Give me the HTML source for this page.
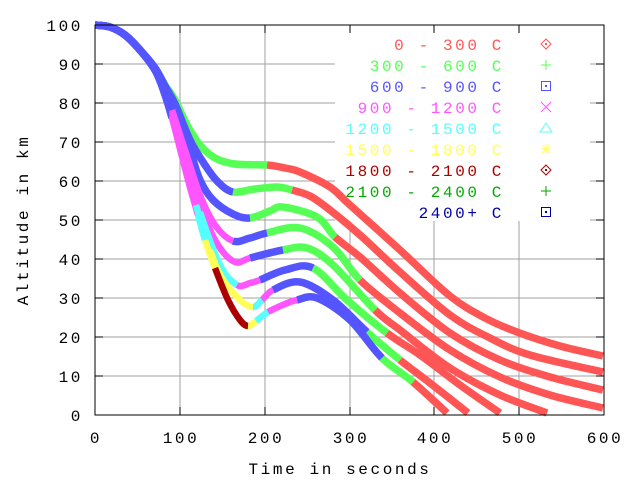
<!DOCTYPE html>
<html><head><meta charset="utf-8"><style>
html,body{margin:0;padding:0;background:#fff}
svg{display:block}
text{font-family:"Liberation Mono",monospace;font-size:16px;letter-spacing:2.6px}
</style></head><body>
<svg id="s" width="640" height="480" xmlns="http://www.w3.org/2000/svg">
<rect width="640" height="480" fill="#fff"/>
<g id="grid" stroke="#a0a0a0" stroke-width="1"></g>
<rect x="335" y="31" width="255" height="190" fill="#fff"/>
<g id="curves" fill="none" stroke-linecap="butt" stroke-linejoin="round"></g>
<g id="legend"></g>
<g id="axes"></g>
<text x="340" y="474" text-anchor="middle">Time in seconds</text>
<text transform="translate(28,220) rotate(-90)" text-anchor="middle">Altitude in km</text>
</svg>
<script>
const NS="http://www.w3.org/2000/svg";
function el(t,a,p){const e=document.createElementNS(NS,t);for(const k in a)e.setAttribute(k,a[k]);p.appendChild(e);return e;}
const grid=document.getElementById('grid'),axes=document.getElementById('axes');
const X0=95,X1=604,Y0=415,Y1=25;
const xs=[95,180,265,350,434,519,604];
for(let i=0;i<7;i++){
 const x=xs[i];
 if(i>0&&i<6) el('line',{x1:x,y1:Y1,x2:x,y2:Y0},grid);
 el('line',{x1:x,y1:Y0,x2:x,y2:Y0-8,stroke:'#000'},axes);
 el('line',{x1:x,y1:Y1,x2:x,y2:Y1+8,stroke:'#000'},axes);
 const t=el('text',{x:x+1,y:443,'text-anchor':'middle'},axes);t.textContent=String(i*100);
}
for(let k=0;k<=10;k++){
 const y=Y0-39*k;
 if(k>0&&k<10) el('line',{x1:X0,y1:y,x2:X1,y2:y},grid);
 el('line',{x1:X0,y1:y,x2:X0+8,y2:y,stroke:'#000'},axes);
 el('line',{x1:X1,y1:y,x2:X1-8,y2:y,stroke:'#000'},axes);
 const t=el('text',{x:83,y:y+6,'text-anchor':'end'},axes);t.textContent=String(k*10);
}
el('rect',{x:X0,y:Y1,width:X1-X0,height:Y0-Y1,fill:'none',stroke:'#000'},axes);

const C={r:'#ff5555',g:'#55ff55',b:'#5555ff',m:'#ff55ff',c:'#55ffff',y:'#ffff55',d:'#aa0000'};
const T=[
 [[95,25,'b'],[110,27],[125,35],[140,50,'g'],[155,68],[165,85],[175,100],[187,125],[200,145],[215,158],[235,164],[267,165,'r'],[285,168],[300,172],[330,187],[350,205],[400,250],[450,296],[485,318],[517,332],[560,346],[603,356]],
 [[95,25,'b'],[110,27],[125,35],[140,50],[155,68],[165,86],[175,104],[190,140],[205,165],[218,182],[233,192,'g'],[255,189],[277,187],[292,190,'r'],[310,196],[330,210],[360,235],[400,272],[450,315],[490,338],[530,355],[603,372]],
 [[95,25,'b'],[110,27],[125,35],[140,50],[155,68],[165,87],[176,108],[190,150],[200,180],[213,200],[233,214],[250,218,'g'],[270,211],[283,207],[317,217],[335,237,'r'],[360,257],[400,293],[450,333],[500,360],[550,377],[603,390]],
 [[95,25,'b'],[110,27],[125,35],[140,50],[155,69],[164,88],[172,110,'m'],[185,150],[200,195],[215,225],[233,241,'b'],[250,238],[267,233,'g'],[300,228],[333,247],[360,280,'r'],[400,313],[450,350],[500,377],[550,395],[603,408]],
 [[95,25,'b'],[110,27],[125,35],[140,50],[155,69],[164,89],[172,112,'m'],[187,160],[202,210],[218,245],[235,262],[250,258,'b'],[283,250,'g'],[307,248],[333,265],[375,310,'r'],[400,330],[450,368],[500,395],[547,413]],
 [[95,25,'b'],[110,27],[125,35],[140,50],[155,70],[164,90],[172,115,'m'],[188,170],[200,212,'c'],[220,265],[237,285,'m'],[250,283],[260,280,'b'],[285,270],[313,268,'g'],[347,300],[387,333,'r'],[420,355],[460,385],[500,413]],
 [[95,25,'b'],[110,27],[125,35],[140,50],[155,70],[164,91],[172,117,'m'],[188,175],[196,205,'c'],[210,250,'y'],[222,278],[240,300],[253,307,'c'],[262,300,'m'],[273,290,'b'],[300,282],[333,300],[367,332,'g'],[400,360,'r'],[430,383],[468,413]],
 [[95,25,'b'],[110,27],[125,35],[140,50],[155,70],[164,92],[172,118,'m'],[188,180],[198,215,'c'],[205,240,'y'],[215,268,'d'],[228,300],[240,320],[248,326,'y'],[256,321,'c'],[268,312,'m'],[285,304],[297,300,'b'],[317,298],[350,320],[382,358,'g'],[413,382,'r'],[447,413]]
];
function crPath(P,i0,i1){
 let d='M'+P[i0][0]+','+P[i0][1];
 for(let i=i0;i<i1;i++){
  const p0=P[Math.max(i-1,0)],p1=P[i],p2=P[i+1],p3=P[Math.min(i+2,P.length-1)];
  const c1=[p1[0]+(p2[0]-p0[0])/6,p1[1]+(p2[1]-p0[1])/6];
  const c2=[p2[0]-(p3[0]-p1[0])/6,p2[1]-(p3[1]-p1[1])/6];
  d+=' C'+c1[0].toFixed(1)+','+c1[1].toFixed(1)+' '+c2[0].toFixed(1)+','+c2[1].toFixed(1)+' '+p2[0]+','+p2[1];
 }
 return d;
}
const order=['r','g','b','m','c','y','d'];
const segs={};order.forEach(k=>segs[k]=[]);
T.forEach(P=>{
 let start=0,col=P[0][2];
 for(let i=1;i<P.length;i++){
  if(P[i][2]||i==P.length-1){segs[col].push(crPath(P,start,i));if(P[i][2]){col=P[i][2];start=i;}}
 }
});
const cv=document.getElementById('curves');
order.forEach(k=>segs[k].forEach(d=>el('path',{d:d,stroke:C[k],'stroke-width':(k=='r'||k=='g'||k=='b')?7.5:6.5},cv)));
const L=[['0 - 300 C','#ff5555','dia'],['300 - 600 C','#55ff55','plus'],['600 - 900 C','#5555ff','sq'],['900 - 1200 C','#ff55ff','x'],['1200 - 1500 C','#55ffff','tri'],['1500 - 1800 C','#ffff55','star'],['1800 - 2100 C','#aa0000','dia'],['2100 - 2400 C','#00aa00','plus'],['2400+ C','#0000aa','sq']];
const lg=document.getElementById('legend');
L.forEach((r,i)=>{
 const y=44+21*i;
 const t=el('text',{x:504,y:y+6,'text-anchor':'end',fill:r[1]},lg);t.textContent=r[0];
 const x=546,g=el('g',{stroke:r[1],fill:'none','stroke-width':1},lg);
 if(r[2]=='dia'){el('path',{d:`M${x} ${y-5}L${x+5} ${y}L${x} ${y+5}L${x-5} ${y}Z`},g);el('rect',{x:x-.5,y:y-.5,width:1,height:1,fill:r[1]},g);}
 if(r[2]=='plus'){el('path',{d:`M${x-5} ${y}H${x+5}M${x} ${y-5}V${y+5}`},g);}
 if(r[2]=='sq'){el('rect',{x:x-4.5,y:y-4.5,width:9,height:9},g);el('rect',{x:x-.5,y:y-.5,width:1,height:1,fill:r[1]},g);}
 if(r[2]=='x'){el('path',{d:`M${x-5} ${y-5}L${x+5} ${y+5}M${x+5} ${y-5}L${x-5} ${y+5}`},g);}
 if(r[2]=='tri'){el('path',{d:`M${x} ${y-5}L${x+6} ${y+4}L${x-6} ${y+4}Z`},g);}
 if(r[2]=='star'){el('path',{d:`M${x-5} ${y}H${x+5}M${x} ${y-5}V${y+5}M${x-4} ${y-4}L${x+4} ${y+4}M${x+4} ${y-4}L${x-4} ${y+4}`},g);}
});
</script>
</body></html>
